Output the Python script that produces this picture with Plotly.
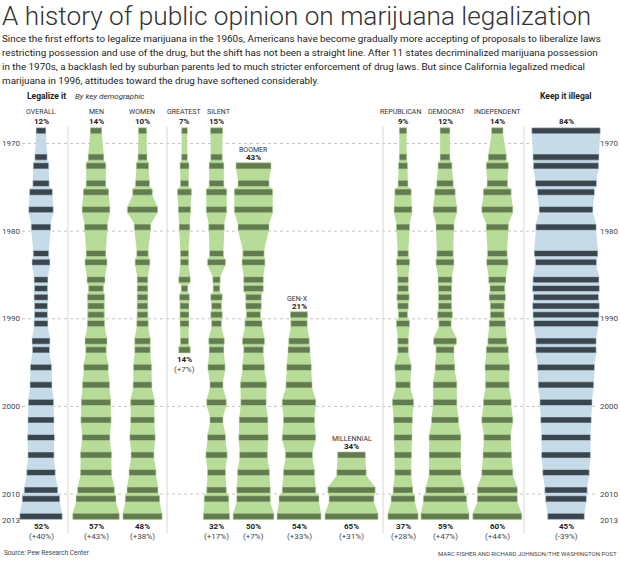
import plotly.graph_objects as go

# ---------------- data ----------------
years = [1969, 1972, 1973, 1975, 1976, 1978, 1980, 1983, 1984, 1986, 1987, 1988, 1989,
         1990, 1991, 1993, 1994, 1996, 1998, 2000, 2002, 2004, 2006, 2008, 2010, 2011, 2013]

overall = [12, 15, 19, 20, 28, 30, 24, 19, 22, 17, 16, 17, 16, 16, 17, 22, 21, 26, 27, 31, 32, 33, 32, 35, 41, 46, 52]
men = [14, 19, 24, 24, 31, 34, 28, 24, 27, 22, 18, 21, 20, 20, 21, 27, 25, 30, 33, 36, 37, 34, 38, 38, 45, 49, 57]
women = [10, 11, 15, 17, 24, 37, 20, 14, 18, 13, 13, 13, 13, 13, 14, 19, 19, 22, 23, 29, 29, 31, 28, 33, 38, 42, 48]
greatest = [7, 7, 11, 10, 17, 15, 13, 10, 10, 14, 8, 12, 11, 11, 11, 10, 14,
            None, None, None, None, None, None, None, None, None, None]
silent = [15, 14, 18, 18, 25, 25, 19, 17, 22, 9, 8, 14, 12, 14, 12, 19, 18, 21, 16, 24, 16, 22, 26, 22, 24, 30, 32]
boomer = [None, None, 43, 38, 47, 47, 38, 26, 28, 24, 24, 19, 19, 17, 21, 27, 24, 27, 32, 31, 35, 36, 34, 39, 41, 41, 50]
genx = [None] * 13 + [21, 20, 25, 27, 30, 32, 41, 38, 41, 33, 38, 41, 49, 54]
millennial = [None] * 22 + [34, 36, 58, 55, 65]
republican = [9, 9, 11, 12, 20, 22, 16, 13, 16, 13, 13, 15, 13, 11, 16, 13, 13, 20, 18, 26, 23, 22, 21, 20, 24, 29, 37]
democrat = [12, 12, 17, 20, 25, 29, 22, 20, 22, 17, 16, 16, 16, 18, 15, 28, 22, 24, 29, 29, 33, 39, 39, 39, 47, 53, 59]
independent = [14, 22, 27, 25, 34, 38, 27, 24, 26, 21, 18, 20, 17, 17, 20, 23, 27, 30, 29, 34, 38, 33, 35, 38, 49, 49, 60]
illegal = [84, 81, 80, 75, 70, 66, 74, 78, 75, 81, 82, 80, 82, 81, 79, 74, 74, 70, 68, 64, 62, 60, 60, 57, 52, 50, 45]

names = ["OVERALL", "MEN", "WOMEN", "GREATEST", "SILENT", "BOOMER", "GEN-X", "MILLENNIAL",
         "REPUBLICAN", "DEMOCRAT", "INDEPENDENT", ""]
series = [overall, men, women, greatest, silent, boomer, genx, millennial,
          republican, democrat, independent, illegal]
start_labels = ["12%", "14%", "10%", "7%", "15%", "43%", "21%", "34%", "9%", "12%", "14%", "84%"]
end_labels = ["52%", "57%", "48%", "14%", "32%", "50%", "54%", "65%", "37%", "59%", "60%", "45%"]
change_labels = ["(+40%)", "(+43%)", "(+38%)", "(+7%)", "(+17%)", "(+7%)", "(+33%)", "(+31%)",
                 "(+28%)", "(+47%)", "(+44%)", "(-39%)"]
year_ticks = [1970, 1980, 1990, 2000, 2010, 2013]

# ---------------- layout constants ----------------
W, H = 620, 569
centers = [41, 96, 142.5, 184.5, 216.5, 253.5, 299, 351.5, 403, 445, 497.3, 566]
label_centers = [41, 96, 142, 184, 219, 253.5, 297, 351.5, 400.5, 446.5, 497.3, 566]
blue_cols = {0, 11}
S = 0.815            # px per percentage point
BAR_TOP, BAR_BOT = -0.8, -0.1   # bar extent relative to the survey year
PX0, PXY = 143.5, 8.7625        # pixel of 1970, pixels per year

LIGHT_BLUE, DARK_BLUE = "#c5dce8", "#3a454d"
LIGHT_GREEN, DARK_GREEN = "#b6dc97", "#627b50"
FONT = "Roboto"


def yr(py):
    return 1970 + (py - PX0) / PXY


fig = go.Figure()

for i, (vals, c) in enumerate(zip(series, centers)):
    light = LIGHT_BLUE if i in blue_cols else LIGHT_GREEN
    dark = DARK_BLUE if i in blue_cols else DARK_GREEN
    pts = [(y, v) for y, v in zip(years, vals) if v is not None]
    # envelope polygon
    lx, ly, rx, ry = [], [], [], []
    for y, v in pts:
        half = v * S / 2
        lx += [c - half, c - half]
        ly += [y + BAR_TOP, y + BAR_BOT]
        rx += [c + half, c + half]
        ry += [y + BAR_TOP, y + BAR_BOT]
    px = lx + rx[::-1] + [lx[0]]
    py = ly + ry[::-1] + [ly[0]]
    fig.add_trace(go.Scatter(x=px, y=py, fill="toself", fillcolor=light, mode="lines",
                             line=dict(width=0, color=light), hoverinfo="skip", showlegend=False))
    # survey bars (one rectangle per survey year)
    bx, by = [], []
    for y, v in pts:
        half = v * S / 2
        bx += [c - half, c + half, c + half, c - half, c - half, None]
        by += [y + BAR_TOP, y + BAR_TOP, y + BAR_BOT, y + BAR_BOT, y + BAR_TOP, None]
    fig.add_trace(go.Scatter(x=bx, y=by, fill="toself", fillcolor=dark, mode="lines",
                             line=dict(width=0.6, color=light), connectgaps=False,
                             hoverinfo="skip", showlegend=False))

shapes = []
for t in year_ticks[:-1]:
    shapes.append(dict(type="line", xref="x", yref="y", x0=22, x1=598, y0=t, y1=t,
                       line=dict(color="#c4c4c4", width=1, dash="dot"), layer="below"))
for sx in [68, 167, 383, 524]:
    shapes.append(dict(type="line", xref="x", yref="y", x0=sx, x1=sx, y0=yr(127), y1=yr(533),
                       line=dict(color="#d6d6d6", width=1), layer="below"))

ann = []


def txt(x, py, s, size=8, color="#222", xanchor="center", bold=False, italic=False,
        family=FONT, weight=None):
    if bold:
        s = "<b>" + s + "</b>"
    if italic:
        s = "<i>" + s + "</i>"
    font = dict(size=size, color=color, family=family)
    if weight is not None:
        font["weight"] = weight
    ann.append(dict(x=x, y=yr(py), xref="x", yref="y", text=s, showarrow=False,
                    xanchor=xanchor, yanchor="middle", font=font))


txt(0, 16, "A history of public opinion on marijuana legalization", size=26.2, color="#333",
    xanchor="left", family="Roboto", weight=300)
para = [
    "Since the first efforts to legalize marijuana in the 1960s, Americans have become gradually more accepting of proposals to liberalize laws",
    "restricting possession and use of the drug, but the shift has not been a straight line. After 11 states decriminalized marijuana possession",
    "in the 1970s, a backlash led by suburban parents led to much stricter enforcement of drug laws. But since California legalized medical",
    "marijuana in 1996, attitudes toward the drug have softened considerably.",
]
for k, line in enumerate(para):
    txt(0, 38 + k * 14.2, line, size=9.85, color="#222", xanchor="left")

txt(25, 96, "Legalize it", size=8.5, bold=True, xanchor="left")
txt(73, 96, "By key demographic", size=8, italic=True, xanchor="left", color="#333")
txt(566, 96, "Keep it illegal", size=8.5, bold=True)

for i, (vals, c) in enumerate(zip(series, label_centers)):
    pts = [(y, v) for y, v in zip(years, vals) if v is not None]
    first, last = pts[0][0], pts[-1][0]
    cc = centers[i]
    if first == years[0]:
        if names[i]:
            txt(c, 112, names[i], size=7, color="#333")
        txt(cc, 121, start_labels[i], size=8, bold=True)
    else:
        top_px = PX0 + (first + BAR_TOP - 1970) * PXY
        txt(c, top_px - 13, names[i], size=7, color="#333")
        txt(cc, top_px - 5.5, start_labels[i], size=8, bold=True)
    bot_px = PX0 + (last + BAR_BOT - 1970) * PXY
    txt(cc, bot_px + 7, end_labels[i], size=8, bold=True)
    txt(cc, bot_px + 17, change_labels[i], size=8, color="#444")

for t in year_ticks:
    ann.append(dict(x=0, y=t, xref="x", yref="y", text=str(t), showarrow=False, xanchor="left",
                    yanchor="middle", font=dict(size=8, color="#444", family=FONT)))
    ann.append(dict(x=620, y=t, xref="x", yref="y", text=str(t), showarrow=False, xanchor="right",
                    yanchor="middle", font=dict(size=8, color="#444", family=FONT)))

txt(2, 553, "Source: Pew Research Center", size=6.5, color="#444", xanchor="left")
txt(619, 553, "MARC FISHER AND RICHARD JOHNSON/THE WASHINGTON POST", size=6, color="#444", xanchor="right")

fig.update_layout(
    width=W, height=H, margin=dict(l=0, r=0, t=0, b=0),
    paper_bgcolor="white", plot_bgcolor="white",
    xaxis=dict(range=[0, W], visible=False, fixedrange=True),
    yaxis=dict(range=[yr(H), yr(0)], visible=False, fixedrange=True),
    shapes=shapes, annotations=ann, showlegend=False,
)

fig.write_html("out.html", config={"displayModeBar": False},
               post_script="document.body.style.margin='0';document.body.style.overflow='hidden';")
